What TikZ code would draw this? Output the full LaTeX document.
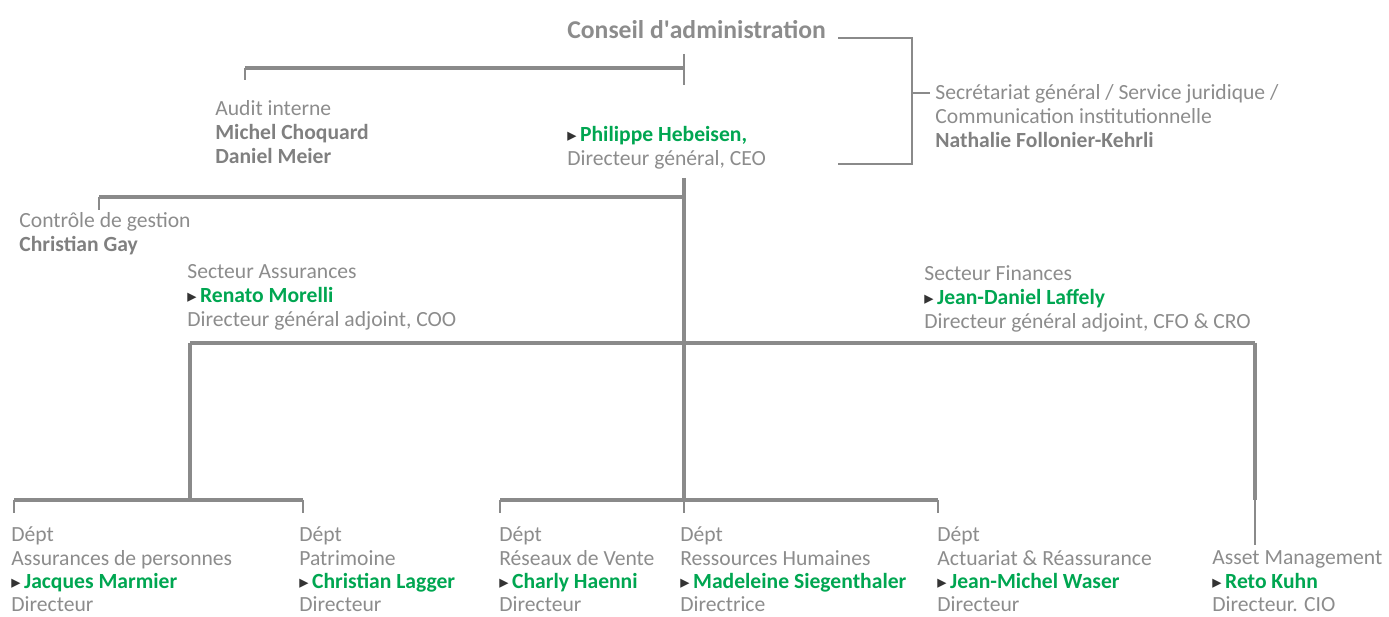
\documentclass[tikz,border=0pt]{standalone}
\usepackage{fontspec}
\setmainfont{Carlito}
\newfontfamily\symfont{DejaVu Sans}
\usepackage{tikz}
\usetikzlibrary{positioning}

\definecolor{txtgray}{HTML}{8C8C8C}
\definecolor{namegray}{HTML}{808080}
\definecolor{linegray}{HTML}{8A8A8A}
\definecolor{namegreen}{HTML}{00A651}
\definecolor{markgray}{HTML}{333333}

\newcommand{\orgtext}[1]{\vtop{\let\\\cr\lineskiplimit=-20pt\halign{##\hfil\cr#1\crcr}}}
\newcommand{\pointer}{{\symfont\fontsize{10.5}{10}\selectfont\color{markgray}▸}\hspace{2pt}}
\newcommand{\boss}[1]{\pointer\textcolor{namegreen}{\textbf{#1}}}

\tikzset{
  label/.style={anchor=base west, inner sep=0pt, text=txtgray,
    font=\fontsize{12.3}{13.66}\selectfont},
  deptlabel/.style={label, font=\fontsize{12.3}{13.1}\selectfont},
  bus/.style={line width=2.8pt, draw=linegray},
  tick/.style={line width=0.7pt, draw=linegray}
}

\begin{document}
\begin{tikzpicture}[x=0.02cm, y=-0.02cm]
    \useasboundingbox (0,0) rectangle (1389,617);

    % Nodes
    \node[label, font=\fontsize{14.6}{16}\selectfont\bfseries] (board) at (567,39) {Conseil d\textquotesingle administration};
    \node[label] (audit) at (215,116) {\orgtext{Audit interne\\ \textcolor{namegray}{\textbf{Michel Choquard}}\\ \textcolor{namegray}{\textbf{Daniel Meier}}}};
    \node[label] (ceo) at (567,142) {\orgtext{\boss{Philippe Hebeisen,}\\ Directeur général, CEO}};
    \node[label] (secr) at (935,100) {\orgtext{Secrétariat général / Service juridique /\\ Communication institutionnelle\\ \textcolor{namegray}{\textbf{Nathalie Follonier-Kehrli}}}};
    \node[label] (ctrl) at (19,228) {\orgtext{Contrôle de gestion\\ \textcolor{namegray}{\textbf{Christian Gay}}}};
    \node[label] (assur) at (187,279) {\orgtext{Secteur Assurances\\ \boss{Renato Morelli}\\ Directeur général adjoint, COO}};
    \node[label] (fin) at (924,281) {\orgtext{Secteur Finances\\ \boss{Jean-Daniel Laffely}\\ Directeur général adjoint, CFO \& CRO}};
    \node[deptlabel] (pers) at (11,542) {\orgtext{Dépt\\ Assurances de personnes\\ \boss{Jacques Marmier}\\ Directeur}};
    \node[deptlabel] (patr) at (299,542) {\orgtext{Dépt\\ Patrimoine\\ \boss{Christian Lagger}\\ Directeur}};
    \node[deptlabel] (vente) at (499,542) {\orgtext{Dépt\\ Réseaux de Vente\\ \boss{Charly Haenni}\\ Directeur}};
    \node[deptlabel] (rh) at (680,542) {\orgtext{Dépt\\ Ressources Humaines\\ \boss{Madeleine Siegenthaler}\\ Directrice}};
    \node[deptlabel] (actu) at (937,542) {\orgtext{Dépt\\ Actuariat \& Réassurance\\ \boss{Jean-Michel Waser}\\ Directeur}};
    \node[deptlabel] (asset) at (1212,565) {\orgtext{Asset Management\\ \boss{Reto Kuhn}\\ Directeur. CIO}};

    % Junctions
    \coordinate (boardtop) at (684,54);
    \coordinate (boardbot) at (684,85);
    \coordinate (auditR) at (684,68);
    \coordinate (auditL) at (245,68);
    \coordinate (auditend) at (245,80);
    \coordinate (ceotop) at (684,178);
    \coordinate (ctrlR) at (684,197);
    \coordinate (ctrlL) at (99,197);
    \coordinate (ctrlend) at (99,210);
    \coordinate (secrA) at (838,38);
    \coordinate (secrB) at (838,164);
    \coordinate (secrmid) at (912,93);
    \coordinate (secrend) at (930,93);
    \coordinate (sectL) at (190,343);
    \coordinate (sectR) at (1255,343);
    \coordinate (assurbus) at (190,500);
    \coordinate (finbus) at (1255,500);
    \coordinate (assetend) at (1255,545);
    \coordinate (persend) at (14,500);
    \coordinate (patrend) at (303,500);
    \coordinate (venteend) at (500,500);
    \coordinate (rhbus) at (684,500);
    \coordinate (actuend) at (938,500);

    % Edges
    \draw[bus] (auditL) -- (auditR);
    \draw[tick] (boardtop) -- (boardbot);
    \draw[tick] (auditL) -- (auditend);
    \draw[tick] (secrA) -| (secrmid) |- (secrB);
    \draw[tick] (secrmid) -- (secrend);
    \draw[bus] (ceotop) -- (rhbus);
    \draw[bus] (ctrlR) -- (ctrlL);
    \draw[tick] (ctrlL) -- (ctrlend);
    \draw[bus] (sectL) -- (sectR);
    \draw[bus] (sectL) -- (assurbus);
    \draw[bus] (sectR) -- (finbus);
    \draw[tick] (finbus) -- (assetend);
    \draw[bus] (persend) -- (patrend);
    \draw[bus] (venteend) -- (actuend);
    \foreach \e in {persend, patrend, venteend, rhbus, actuend}
      \draw[tick] (\e) -- ++(0,13);
\end{tikzpicture}
\end{document}
